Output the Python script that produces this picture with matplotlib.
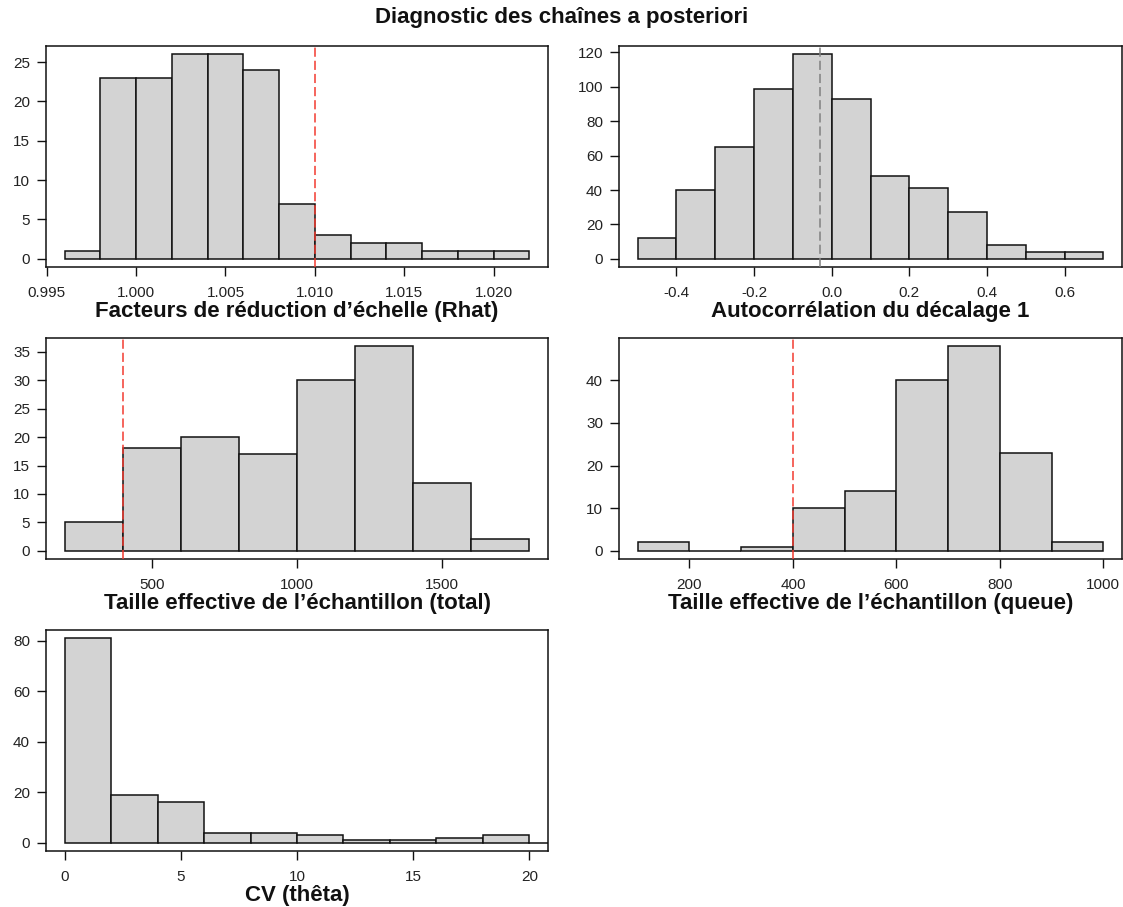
import numpy as np
import matplotlib
matplotlib.use("Agg")
import matplotlib.pyplot as plt

plt.rcParams["font.family"] = ["Liberation Sans", "DejaVu Sans"]

# --- data ---
rhat_edges = np.arange(0.996, 1.0221, 0.002)
rhat_counts = [1, 23, 23, 26, 26, 24, 7, 3, 2, 2, 1, 1, 1]
rhat_ticks = [0.995, 1.000, 1.005, 1.010, 1.015, 1.020]
rhat_yticks = [0, 5, 10, 15, 20, 25]
rhat_thresh = 1.01

acf_edges = np.arange(-0.5, 0.701, 0.1)
acf_counts = [12, 40, 65, 99, 119, 93, 48, 41, 27, 8, 4, 4]
acf_ticks = [-0.4, -0.2, 0.0, 0.2, 0.4, 0.6]
acf_yticks = [0, 20, 40, 60, 80, 100, 120]
acf_mean = -0.03

ess_edges = np.arange(200, 1801, 200)
ess_counts = [5, 18, 20, 17, 30, 36, 12, 2]
ess_ticks = [500, 1000, 1500]
ess_yticks = [0, 5, 10, 15, 20, 25, 30, 35]

tail_edges = np.arange(100, 1001, 100)
tail_counts = [2, 0, 1, 10, 14, 40, 48, 23, 2]
tail_ticks = [200, 400, 600, 800, 1000]
tail_yticks = [0, 10, 20, 30, 40]
ess_thresh = 400

cv_edges = np.arange(0, 20.1, 2)
cv_counts = [81, 19, 16, 4, 4, 3, 1, 1, 2, 3]
cv_ticks = [0, 5, 10, 15, 20]
cv_yticks = [0, 20, 40, 60, 80]

W, H = 1123, 907
fig = plt.figure(figsize=(W / 100, H / 100), dpi=100, facecolor="white")

RED = "#f23b30"
DASH = (0, (6, 2.6))


def px_axes(left, top, right, bottom):
    return fig.add_axes([left / W, 1 - bottom / H, (right - left) / W, (bottom - top) / H])


def r_hist(ax, edges, counts, xticks, yticks, xlabel, fmt=None):
    edges = np.asarray(edges, dtype=float)
    widths = np.diff(edges)
    ax.bar(edges[:-1], counts, width=widths, align="edge",
           color="#d3d3d3", edgecolor="#111111", linewidth=1.1, zorder=2)
    lo, hi = edges[0], edges[-1]
    ext = 0.04 * (hi - lo)
    ax.set_xlim(lo - ext, hi + ext)
    ymax = max(counts)
    ax.set_ylim(-0.04 * ymax, ymax * 1.04)
    ax.set_xticks(xticks)
    if fmt:
        ax.set_xticklabels([fmt.format(t) for t in xticks])
    ax.set_yticks(yticks)
    ax.tick_params(direction="out", length=6.5, width=1.0, color="#111111",
                   labelsize=11, labelcolor="#222222")
    ax.tick_params(axis="x", pad=7.5)
    ax.tick_params(axis="y", pad=5)
    for s in ax.spines.values():
        s.set_linewidth(1.1)
        s.set_color("#111111")
    ax.text(0.5, -45 / 221, xlabel, transform=ax.transAxes, ha="center", va="center",
            fontsize=16, fontweight="bold", color="#111111")


ax1 = px_axes(46, 46, 548, 267)
r_hist(ax1, rhat_edges, rhat_counts, rhat_ticks, rhat_yticks,
       "Facteurs de réduction d’échelle (Rhat)", fmt="{:.3f}")
ax1.axvline(rhat_thresh, color=RED, linestyle=DASH, linewidth=1.1, zorder=3)

ax2 = px_axes(619, 46, 1122, 267)
r_hist(ax2, acf_edges, acf_counts, acf_ticks, acf_yticks,
       "Autocorrélation du décalage 1", fmt="{:.1f}")
ax2.axvline(acf_mean, color="#808080", linestyle=DASH, linewidth=1.1, zorder=3)

ax3 = px_axes(46, 338, 548, 559)
r_hist(ax3, ess_edges, ess_counts, ess_ticks, ess_yticks,
       "Taille effective de l’échantillon (total)")
ax3.axvline(ess_thresh, color=RED, linestyle=DASH, linewidth=1.1, zorder=3)

ax4 = px_axes(619, 338, 1122, 559)
r_hist(ax4, tail_edges, tail_counts, tail_ticks, tail_yticks,
       "Taille effective de l’échantillon (queue)")
ax4.axvline(ess_thresh, color=RED, linestyle=DASH, linewidth=1.1, zorder=3)

ax5 = px_axes(46, 630, 548, 851)
r_hist(ax5, cv_edges, cv_counts, cv_ticks, cv_yticks, "CV (thêta)")
ax5.plot([cv_edges[-1], ax5.get_xlim()[1]], [0, 0], color="#111111", linewidth=1.1, zorder=3)
ax5.set_xlim(cv_edges[0] - 0.04 * 20, cv_edges[-1] + 0.04 * 20)

fig.text(0.5, 1 - 18 / H, "Diagnostic des chaînes a posteriori", ha="center", va="center",
         fontsize=16, fontweight="bold", color="#111111")

fig.savefig("out.png", dpi=100, facecolor="white")
